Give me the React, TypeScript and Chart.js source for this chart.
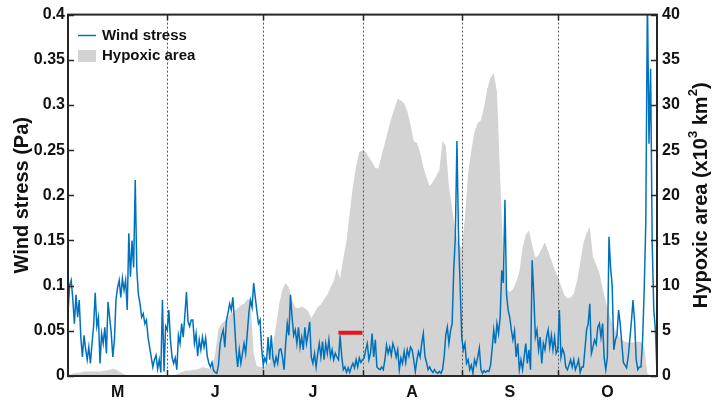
import React, { useEffect, useRef } from "react";
import { Chart, registerables } from "chart.js";

Chart.register(...registerables);

// ---- categories / ticks ----
const monthLabels = ["M", "J", "J", "A", "S", "O"];
const monthStartDays = [0, 31, 61, 92, 123, 153, 184]; // days since 1 May
const windAxisMax = 0.4;
const windAxisStep = 0.05;
const areaAxisMax = 40;
const areaAxisStep = 5;

// ---- wind stress (Pa), two samples per day, 1 May .. 31 Oct ----
const windMay = [
  0.07, 0.1, 0.106, 0.085, 0.058, 0.09, 0.065, 0.084, 0.043, 0.021,
  0.045, 0.03, 0.018, 0.032, 0.014, 0.036, 0.055, 0.092, 0.055, 0.065,
  0.014, 0.047, 0.036, 0.054, 0.025, 0.082, 0.065, 0.048, 0.021, 0.04,
  0.085, 0.098, 0.106, 0.087, 0.108, 0.095, 0.106, 0.073, 0.158, 0.11,
  0.15, 0.12, 0.217, 0.117, 0.09, 0.08, 0.065, 0.069, 0.058, 0.062,
  0.043, 0.032, 0.021, 0.01, 0.018, 0.023, 0.008, 0.018, 0.004, 0.084,
  0.005, 0.055,
];
const windJun = [
  0.051, 0.073, 0.04, 0.021, 0.014, 0.02, 0.007, 0.045, 0.036, 0.058,
  0.043, 0.067, 0.093, 0.06, 0.055, 0.062, 0.062, 0.036, 0.047, 0.022,
  0.04, 0.029, 0.043, 0.032, 0.042, 0.022, 0.014, 0.01, 0.015, 0.006,
  0.004, 0.003, 0.012, 0.035, 0.045, 0.051, 0.032, 0.062, 0.07, 0.08,
  0.073, 0.087, 0.06, 0.029, 0.01, 0.029, 0.014, 0.025, 0.036, 0.025,
  0.047, 0.07, 0.084, 0.076, 0.103, 0.087, 0.072, 0.058, 0.062, 0.03,
];
const windJul = [
  0.012, 0.02, 0.015, 0.043, 0.018, 0.045, 0.02, 0.012, 0.021, 0.014,
  0.029, 0.03, 0.021, 0.007, 0.036, 0.058, 0.045, 0.09, 0.065, 0.045,
  0.051, 0.036, 0.054, 0.032, 0.043, 0.029, 0.054, 0.036, 0.047, 0.06,
  0.021, 0.014, 0.025, 0.01, 0.025, 0.036, 0.021, 0.038, 0.018, 0.036,
  0.025, 0.04, 0.021, 0.029, 0.018, 0.025, 0.021, 0.018, 0.045, 0.022,
  0.007, 0.01, 0.004, 0.009, 0.004, 0.01, 0.014, 0.009, 0.018, 0.01,
  0.02, 0.015,
];
const windAug = [
  0.018, 0.02, 0.029, 0.036, 0.018, 0.025, 0.047, 0.021, 0.04, 0.01,
  0.008, 0.007, 0.01, 0.007, 0.018, 0.034, 0.025, 0.032, 0.023, 0.036,
  0.03, 0.021, 0.029, 0.007, 0.02, 0.014, 0.027, 0.015, 0.029, 0.022,
  0.032, 0.029, 0.018, 0.005, 0.018, 0.027, 0.021, 0.036, 0.047, 0.022,
  0.015, 0.007, 0.01, 0.006, 0.004, 0.007, 0.004, 0.003, 0.005, 0.003,
  0.007, 0.021, 0.045, 0.054, 0.036, 0.05, 0.058, 0.117, 0.154, 0.26,
  0.154, 0.1,
];
const windSep = [
  0.043, 0.029, 0.036, 0.014, 0.018, 0.007, 0.012, 0.003, 0.018, 0.012,
  0.021, 0.031, 0.007, 0.003, 0.006, 0.004, 0.006, 0.005, 0.012, 0.03,
  0.051, 0.036, 0.058, 0.047, 0.065, 0.117, 0.103, 0.195, 0.09, 0.073,
  0.065, 0.051, 0.04, 0.05, 0.021, 0.036, 0.007, 0.018, 0.007, 0.021,
  0.036, 0.014, 0.029, 0.007, 0.128, 0.09, 0.043, 0.051, 0.029, 0.043,
  0.014, 0.036, 0.029, 0.043, 0.051, 0.032, 0.045, 0.029, 0.043, 0.025,
];
const windOct = [
  0.029, 0.073, 0.021, 0.03, 0.025, 0.01, 0.007, 0.012, 0.018, 0.01,
  0.018, 0.007, 0.012, 0.018, 0.004, 0.01, 0.01, 0.03, 0.051, 0.058,
  0.08, 0.025, 0.032, 0.04, 0.035, 0.054, 0.058, 0.043, 0.058, 0.02,
  0.007, 0.021, 0.154, 0.12, 0.1, 0.029, 0.04, 0.045, 0.073, 0.058,
  0.036, 0.015, 0.012, 0.009, 0.021, 0.04, 0.06, 0.084, 0.06, 0.018,
  0.007, 0.01, 0.01, 0.04, 0.095, 0.17, 0.42, 0.257, 0.34, 0.147,
  0.073, 0.051, 0.003,
];
const windSamplesPerDay = 2;

// ---- hypoxic area (x10^3 km^2), daily ----
const hypoxicMay = [
  0.1, 0.2, 0.3, 0.35, 0.4, 0.5, 0.5, 0.5, 0.5, 0.5,
  0.5, 0.55, 0.6, 0.7, 0.8, 0.7, 0.5, 0.3, 0.1, 0, 0,
  0, 0, 0, 0, 0, 0, 0, 0, 0, 0,
];
const hypoxicJun = [
  0, 0, 0, 0.2, 0.4, 0.5, 0.6, 0.6, 0.7, 0.7,
  0.8, 1.0, 0.9, 0.8, 0.9, 2.5, 5.2, 5.8, 6.1, 6.5,
  6.9, 7.2, 7.5, 7.8, 8.0, 8.5, 8.4, 2.5, 1.1, 1.0,
];
const hypoxicJul = [
  1.0, 1.2, 1.5, 3.4, 5.6, 8, 9.6, 10.3, 9.8, 8.4,
  7.6, 7.5, 7.7, 7.5, 7.2, 6.4, 7.0, 7.6, 7.9, 8.5,
  9, 9.8, 10.5, 11.9, 10.8, 13, 15, 18, 21, 23.2,
  24.8,
];
const hypoxicAug = [
  25, 24.8, 24.2, 23.7, 23, 23, 24.5, 25.8, 27.2, 28.5,
  29.6, 30.7, 30.5, 30.2, 29.3, 27.8, 26, 25.8, 24.8, 23.1,
  22, 21, 21.5, 22.1, 22.8, 26, 25.5, 21, 18.5, 16,
  14.5,
];
const hypoxicSep = [
  14.2, 17.5, 22.5, 25, 27, 28, 28.3, 29.8, 31.8, 33,
  33.5, 31.5, 22, 13, 9.6, 9.3, 9.6, 10.4, 11.5, 14.2,
  15.6, 16.1, 14.5, 13.1, 13.4, 14.1, 14.8, 13.8, 12.8, 11.8,
];
const hypoxicOct = [
  11, 10, 9, 8.6, 8.7, 9.1, 10.5, 12.5, 14.7, 15.8,
  16.5, 13.2, 12.3, 11.4, 9.8, 8.2, 7, 5.8, 5, 4.4,
  4, 3.8, 3.7, 3.7, 3.7, 3.8, 3.8, 3.2, 0.3, 0,
  0, 0,
];

// ---- red marker segment ----
const redSegmentDays = [84.5, 92];
const redSegmentValue = 0.048;

const FONT = "'Liberation Sans', Arial, Helvetica, sans-serif";
const TEXT = "#111111";
const AXIS = "#262626";
const WIND_BLUE = "#0072BD";
const AREA_GREY = "#d3d3d3";

export default function App() {
  const canvasRef = useRef<HTMLCanvasElement | null>(null);

  useEffect(() => {
    const canvas = canvasRef.current;
    if (!canvas) return;

    const windAll = [...windMay, ...windJun, ...windJul, ...windAug, ...windSep, ...windOct];
    const windData = windAll.map((v, i) => ({ x: i / windSamplesPerDay, y: v }));
    const hypAll = [...hypoxicMay, ...hypoxicJun, ...hypoxicJul, ...hypoxicAug, ...hypoxicSep, ...hypoxicOct];
    const hypData = hypAll.map((v, d) => ({ x: d, y: v }));
    const redData = redSegmentDays.map((d) => ({ x: d, y: redSegmentValue }));
    const monthMids = monthLabels.map((_, i) => (monthStartDays[i] + monthStartDays[i + 1]) / 2);
    const windTickValues: number[] = [];
    for (let k = 0; k <= Math.round(windAxisMax / windAxisStep); k++) windTickValues.push(k * windAxisStep);

    const decor = {
      id: "decor",
      afterDatasetDraw(chart: any, args: any) {
        if (args.index !== 2) return;
        const { ctx, chartArea } = chart;
        const xs = chart.scales.x;
        ctx.save();
        ctx.strokeStyle = "#5a5a5a";
        ctx.lineWidth = 1;
        ctx.setLineDash([2, 2]);
        monthStartDays.slice(1, -1).forEach((d) => {
          const px = Math.round(xs.getPixelForValue(d)) + 0.5;
          ctx.beginPath();
          ctx.moveTo(px, chartArea.top);
          ctx.lineTo(px, chartArea.bottom);
          ctx.stroke();
        });
        ctx.restore();
      },
      afterDraw(chart: any) {
        const { ctx, chartArea } = chart;
        const { left, right, top, bottom } = chartArea;
        const xs = chart.scales.x;
        const ys = chart.scales.y;
        ctx.save();
        // ticks
        ctx.strokeStyle = AXIS;
        ctx.lineWidth = 1.5;
        ctx.setLineDash([]);
        windTickValues.forEach((v) => {
          const py = Math.round(ys.getPixelForValue(v)) + 0.5;
          ctx.beginPath();
          ctx.moveTo(left, py);
          ctx.lineTo(left + 6, py);
          ctx.moveTo(right, py);
          ctx.lineTo(right - 6, py);
          ctx.stroke();
        });
        monthStartDays.slice(1, -1).forEach((d) => {
          const px = Math.round(xs.getPixelForValue(d)) + 0.5;
          ctx.beginPath();
          ctx.moveTo(px, top);
          ctx.lineTo(px, top + 6);
          ctx.moveTo(px, bottom);
          ctx.lineTo(px, bottom - 6);
          ctx.stroke();
        });
        // frame
        ctx.lineWidth = 2;
        ctx.strokeRect(left, top, right - left, bottom - top);

        // legend
        ctx.strokeStyle = WIND_BLUE;
        ctx.lineWidth = 1.5;
        ctx.beginPath();
        ctx.moveTo(78, 35.5);
        ctx.lineTo(96, 35.5);
        ctx.stroke();
        ctx.fillStyle = AREA_GREY;
        ctx.fillRect(78, 50, 18, 12);
        ctx.fillStyle = TEXT;
        ctx.font = `bold 15px ${FONT}`;
        ctx.textAlign = "left";
        ctx.textBaseline = "middle";
        ctx.fillText("Wind stress", 102, 36);
        ctx.fillText("Hypoxic area", 102, 56);

        // left title
        const midY = (top + bottom) / 2;
        ctx.save();
        ctx.translate(22, midY);
        ctx.rotate(-Math.PI / 2);
        ctx.font = `bold 20px ${FONT}`;
        ctx.textAlign = "center";
        ctx.textBaseline = "middle";
        ctx.fillText("Wind stress (Pa)", 0, 0);
        ctx.restore();

        // right title with superscripts
        ctx.save();
        ctx.translate(701, midY);
        ctx.rotate(-Math.PI / 2);
        ctx.textBaseline = "middle";
        ctx.textAlign = "left";
        const runs: Array<[string, boolean]> = [
          ["Hypoxic area (x10", false],
          ["3", true],
          [" km", false],
          ["2", true],
          [")", false],
        ];
        const big = `bold 20px ${FONT}`;
        const small = `bold 13px ${FONT}`;
        let total = 0;
        runs.forEach(([t, sup]) => {
          ctx.font = sup ? small : big;
          total += ctx.measureText(t).width;
        });
        let cx = -total / 2;
        runs.forEach(([t, sup]) => {
          ctx.font = sup ? small : big;
          ctx.fillText(t, cx, sup ? -8 : 0);
          cx += ctx.measureText(t).width;
        });
        ctx.restore();

        ctx.restore();
      },
    };

    const tickFont = { family: FONT, size: 16, weight: "bold" as const };

    const chart = new Chart(canvas, {
      type: "line",
      data: {
        datasets: [
          {
            label: "Marker",
            data: redData,
            borderColor: "#e8141c",
            borderWidth: 4,
            pointRadius: 0,
            order: 0,
            yAxisID: "y",
            borderCapStyle: "butt",
          },
          {
            label: "Wind stress",
            data: windData,
            borderColor: WIND_BLUE,
            borderWidth: 1.5,
            pointRadius: 0,
            tension: 0,
            order: 1,
            yAxisID: "y",
          },
          {
            label: "Hypoxic area",
            data: hypData,
            borderColor: AREA_GREY,
            borderWidth: 0,
            backgroundColor: AREA_GREY,
            fill: "origin",
            pointRadius: 0,
            tension: 0,
            order: 2,
            yAxisID: "y2",
          },
        ],
      },
      options: {
        responsive: false,
        animation: false,
        devicePixelRatio: 1,
        layout: { padding: { top: 14, left: 0, right: 0, bottom: 0 } },
        plugins: { legend: { display: false }, tooltip: { enabled: false } },
        scales: {
          x: {
            type: "linear",
            min: monthStartDays[0],
            max: monthStartDays[monthStartDays.length - 1],
            position: "bottom",
            grid: { display: false, drawTicks: false },
            border: { display: false },
            afterBuildTicks: (s: any) => {
              s.ticks = monthMids.map((v) => ({ value: v }));
            },
            ticks: {
              autoSkip: false,
              maxRotation: 0,
              padding: 7,
              color: TEXT,
              font: tickFont,
              callback: (_v: any, i: number) => monthLabels[i],
            },
            afterFit: (s: any) => {
              s.height = 27;
            },
          },
          y: {
            position: "left",
            min: 0,
            max: windAxisMax,
            grid: { display: false, drawTicks: false },
            border: { display: false },
            ticks: {
              stepSize: windAxisStep,
              padding: 3,
              color: TEXT,
              font: tickFont,
              callback: (v: any) => String(Math.round(Number(v) * 100) / 100),
            },
            afterFit: (s: any) => {
              s.width = 68;
            },
          },
          y2: {
            position: "right",
            min: 0,
            max: areaAxisMax,
            grid: { display: false, drawTicks: false },
            border: { display: false },
            ticks: {
              stepSize: areaAxisStep,
              padding: 5,
              color: TEXT,
              font: tickFont,
            },
            afterFit: (s: any) => {
              s.width = 55;
            },
          },
        },
      },
      plugins: [decor],
    } as any);

    return () => chart.destroy();
  }, []);

  return (
    <div style={{ position: "absolute", left: 0, top: 0, width: 712, height: 403, background: "#fff" }}>
      <canvas ref={canvasRef} width={712} height={403} style={{ display: "block" }} />
    </div>
  );
}
